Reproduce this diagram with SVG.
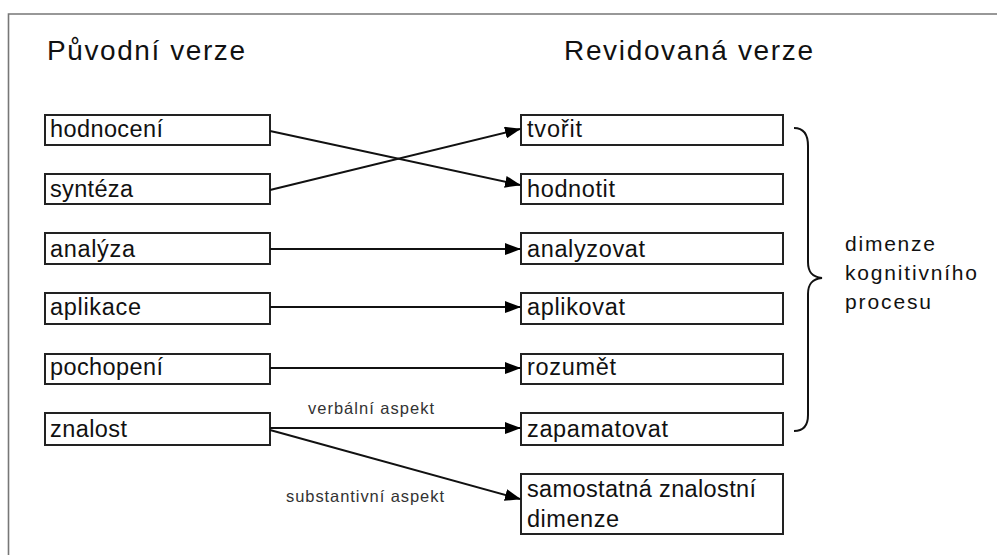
<svg xmlns="http://www.w3.org/2000/svg" width="997" height="555" viewBox="0 0 997 555">
<defs>
<marker id="ah" markerWidth="16" markerHeight="12" refX="15" refY="6" orient="auto" markerUnits="userSpaceOnUse">
<path d="M0,0 L16,6 L0,12 Z" fill="#000"/>
</marker>
<style>
.box{fill:#fff;stroke:#222;stroke-width:2}
.t{font-family:"Liberation Sans",Arial,sans-serif;font-size:23.5px;fill:#111}
.h{font-family:"Liberation Sans",Arial,sans-serif;font-size:28px;fill:#111}
.s{font-family:"Liberation Sans",Arial,sans-serif;font-size:16.5px;fill:#333}
.d{font-family:"Liberation Sans",Arial,sans-serif;font-size:21px;fill:#111}
.c{fill:none;stroke:#111;stroke-width:2}
</style>
</defs>
<rect width="997" height="555" fill="#fff"/>
<path d="M8.5,560 L8.5,14 L1000,14" fill="none" stroke="#777" stroke-width="1.6"/>
<text class="h" x="47" y="60" textLength="198" lengthAdjust="spacing">Původní verze</text>
<text class="h" x="564" y="60" textLength="249" lengthAdjust="spacing">Revidovaná verze</text>

<g id="n-hodnoceni"><rect class="box" x="45" y="115" width="225" height="30"/><text class="t" x="50" y="137" textLength="113" lengthAdjust="spacing">hodnocení</text></g>
<g id="n-synteza"><rect class="box" x="45" y="174" width="225" height="30"/><text class="t" x="50" y="197" textLength="83" lengthAdjust="spacing">syntéza</text></g>
<g id="n-analyza"><rect class="box" x="45" y="233" width="225" height="31"/><text class="t" x="50" y="257" textLength="85" lengthAdjust="spacing">analýza</text></g>
<g id="n-aplikace"><rect class="box" x="45" y="293" width="225" height="31"/><text class="t" x="50" y="315" textLength="91" lengthAdjust="spacing">aplikace</text></g>
<g id="n-pochopeni"><rect class="box" x="45" y="354" width="225" height="30"/><text class="t" x="50" y="375" textLength="113" lengthAdjust="spacing">pochopení</text></g>
<g id="n-znalost"><rect class="box" x="45" y="413" width="225" height="32"/><text class="t" x="50" y="437" textLength="77" lengthAdjust="spacing">znalost</text></g>

<g id="n-tvorit"><rect class="box" x="521" y="115" width="262" height="30"/><text class="t" x="527" y="137" textLength="55" lengthAdjust="spacing">tvořit</text></g>
<g id="n-hodnotit"><rect class="box" x="521" y="174" width="262" height="30"/><text class="t" x="527" y="197" textLength="88" lengthAdjust="spacing">hodnotit</text></g>
<g id="n-analyzovat"><rect class="box" x="521" y="233" width="262" height="31"/><text class="t" x="527" y="257" textLength="118" lengthAdjust="spacing">analyzovat</text></g>
<g id="n-aplikovat"><rect class="box" x="521" y="293" width="262" height="31"/><text class="t" x="527" y="315" textLength="98" lengthAdjust="spacing">aplikovat</text></g>
<g id="n-rozumet"><rect class="box" x="521" y="354" width="262" height="30"/><text class="t" x="527" y="375" textLength="89" lengthAdjust="spacing">rozumět</text></g>
<g id="n-zapamatovat"><rect class="box" x="521" y="413" width="262" height="32"/><text class="t" x="527" y="437" textLength="141" lengthAdjust="spacing">zapamatovat</text></g>
<g id="n-samostatna"><rect class="box" x="521" y="474" width="262" height="60"/><text class="t" x="527" y="497" textLength="229" lengthAdjust="spacing">samostatná znalostní</text><text class="t" x="527" y="527" textLength="92" lengthAdjust="spacing">dimenze</text></g>

<g id="brace">
<path d="M794,128 C803,128 808,134 808,146 L808,262 C808,272 812,277 822,278 C812,279 808,284 808,294 L808,415 C808,426 803,431 794,431" fill="none" stroke="#111" stroke-width="2"/>
<text class="d" x="845" y="251" textLength="90" lengthAdjust="spacing">dimenze</text>
<text class="d" x="845" y="280" textLength="132" lengthAdjust="spacing">kognitivního</text>
<text class="d" x="845" y="309" textLength="86" lengthAdjust="spacing">procesu</text>
</g>

<g id="connectors">
<line class="c" x1="270" y1="131" x2="520" y2="185" marker-end="url(#ah)"/>
<line class="c" x1="270" y1="190" x2="520" y2="129" marker-end="url(#ah)"/>
<line class="c" x1="270" y1="249" x2="520" y2="249" marker-end="url(#ah)"/>
<line class="c" x1="270" y1="307" x2="520" y2="307" marker-end="url(#ah)"/>
<line class="c" x1="270" y1="368" x2="520" y2="368" marker-end="url(#ah)"/>
<line class="c" x1="270" y1="428" x2="520" y2="428" marker-end="url(#ah)"/>
<line class="c" x1="270" y1="430" x2="520" y2="499" marker-end="url(#ah)"/>
<text class="s" x="308" y="414" textLength="126" lengthAdjust="spacing">verbální aspekt</text>
<text class="s" x="286" y="502" textLength="158" lengthAdjust="spacing">substantivní aspekt</text>
</g>
</svg>
